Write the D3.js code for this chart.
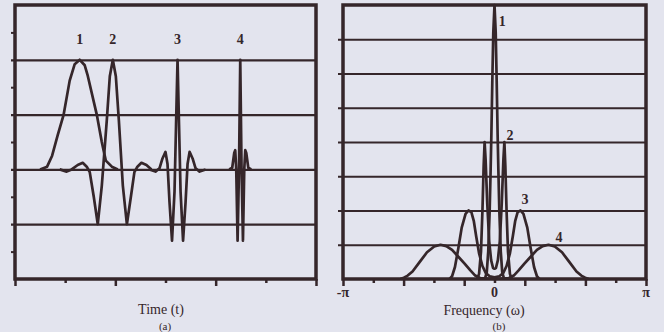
<!DOCTYPE html>
<head>
<meta charset="utf-8">
<title>wavelets: time and frequency</title>
<style>
    body { margin:0; background:#e3e4ee; }
    svg { display:block; }
    text { font-family:"Liberation Serif", "DejaVu Serif", serif; fill:#35262a; }
</style>
</head>
<body>
<svg width="664" height="332"></svg>

<script src="https://cdnjs.cloudflare.com/ajax/libs/d3/7.8.5/d3.min.js"></script>
<script>
// (a) time domain, t in tick units, value in grid units
var time1 = [[0.50,0],[0.64,0.05],[0.74,0.25],[0.85,0.62],[0.97,1.0],[1.09,1.62],[1.19,1.92],[1.29,2.0],
             [1.39,1.9],[1.45,1.71],[1.63,1.0],[1.73,0.5],[1.81,0.16],[1.93,0.05],[2.05,0]];
var time2 = [[0.89,0],[1.03,-0.04],[1.13,0],[1.25,0.08],[1.35,0.12],[1.43,0.05],[1.49,-0.05],[1.57,-0.5],
             [1.65,-1.0],[1.73,-0.3],[1.83,0.9],[1.89,1.7],[1.95,2.0],[2.01,1.7],[2.07,0.9],[2.15,-0.3],
             [2.23,-1.0],[2.31,-0.5],[2.38,-0.05],[2.44,0.05],[2.52,0.12],[2.62,0.08],[2.72,0]];
var time3 = [[2.68,0],[2.80,-0.04],[2.88,0.02],[2.94,0.2],[3.00,0.32],[3.04,0.1],[3.08,-0.6],[3.13,-1.3],
             [3.18,-0.4],[3.21,0.8],[3.24,2.0],[3.27,0.8],[3.30,-0.4],[3.35,-1.3],[3.40,-0.6],[3.44,0.1],
             [3.48,0.32],[3.54,0.2],[3.60,0.02],[3.68,-0.04],[3.80,0]];
var time4 = [[4.27,0],[4.33,0.03],[4.37,0.3],[4.39,0.35],[4.41,0],[4.437,-1.3],[4.465,0],[4.49,2.0],
             [4.516,0],[4.544,-1.3],[4.57,0],[4.59,0.35],[4.61,0.3],[4.65,0.03],[4.71,0]];
var timeLabels = [{n:"1", t:1.29}, {n:"2", t:1.95}, {n:"3", t:3.24}, {n:"4", t:4.49}];

// (b) frequency domain, omega in radians
var freq1 = [[-0.20,0],[-0.16,0.2],[-0.13,0.8],[-0.10,2.0],[-0.08,3.2],[-0.065,4.2],[-0.045,5.8],[-0.025,7.2],[0,8],
             [0.025,7.2],[0.045,5.8],[0.065,4.2],[0.08,3.2],[0.10,2.0],[0.13,0.8],[0.16,0.2],[0.20,0]];
var freq2 = [[-0.36,0],[-0.32,0.15],[-0.28,0.8],[-0.25,2.0],[-0.225,3.3],[-0.205,4.0],[-0.185,3.5],[-0.15,2.2],
             [-0.11,1.1],[-0.07,0.55],[-0.03,0.32],[0,0.3],[0.03,0.32],[0.07,0.55],[0.11,1.1],[0.15,2.2],
             [0.185,3.5],[0.205,4.0],[0.225,3.3],[0.25,2.0],[0.28,0.8],[0.32,0.15],[0.36,0]];
var freq3 = [[-0.93,0],[-0.88,0.08],[-0.82,0.35],[-0.75,0.9],[-0.68,1.5],[-0.60,1.9],[-0.54,2.0],[-0.48,1.95],
             [-0.43,1.7],[-0.38,1.25],[-0.32,0.75],[-0.25,0.38],[-0.18,0.17],[-0.10,0.08],[0,0.05],
             [0.10,0.08],[0.18,0.17],[0.25,0.38],[0.32,0.75],[0.38,1.25],[0.43,1.7],[0.48,1.95],[0.54,2.0],
             [0.60,1.9],[0.68,1.5],[0.75,0.9],[0.82,0.35],[0.88,0.08],[0.93,0]];
var freq4 = [[-1.95,0],[-1.88,0.04],[-1.80,0.1],[-1.70,0.22],[-1.55,0.5],[-1.40,0.78],[-1.25,0.95],[-1.12,1.0],
             [-1.00,0.96],[-0.88,0.85],[-0.75,0.65],[-0.62,0.45],[-0.50,0.25],[-0.40,0.1],[-0.30,0.03],[0,0],
             [0.30,0.03],[0.40,0.1],[0.50,0.25],[0.62,0.45],[0.75,0.65],[0.88,0.85],[1.00,0.96],[1.12,1.0],
             [1.25,0.95],[1.40,0.78],[1.55,0.5],[1.70,0.22],[1.80,0.1],[1.88,0.04],[1.95,0]];
var freqLabels = [{n:"1", w:0.16, v:7.4}, {n:"2", w:0.32, v:4.06}, {n:"3", w:0.63, v:2.2}, {n:"4", w:1.34, v:1.08}];
var freqTicks = [{s:"-\u03c0", w:-Math.PI}, {s:"0", w:0}, {s:"\u03c0", w:Math.PI}];

var ink = "#35262a";
var svg = d3.select("svg");

svg.append("rect").attr("width", 664).attr("height", 332).attr("fill", "#e3e4ee");

function styleAxis(g){
  g.select(".domain").remove();
  g.selectAll("text").remove();
  g.selectAll("line").attr("stroke", ink);
}

// ---- panel (a)
var xT = d3.scaleLinear([0, 6], [15, 316]);
var yT = d3.scaleLinear([-2, 3], [279, 5]);
var a = svg.append("g");

a.append("g").attr("transform", "translate(11,0)")
  .call(d3.axisLeft(yT).tickValues([-1, 0, 1, 2]).tickSize(-(316 - 11)))
  .call(styleAxis).selectAll("line").attr("stroke-width", 2.2);
a.append("g").attr("transform", "translate(15,0)")
  .call(d3.axisLeft(yT).tickValues([-1.5, -0.5, 0.5, 1.5, 2.5]).tickSize(4))
  .call(styleAxis).selectAll("line").attr("stroke-width", 2);
a.append("g").attr("transform", "translate(0,279)")
  .call(d3.axisBottom(xT).tickValues([0, 2, 4, 6]).tickSize(7))
  .call(styleAxis).selectAll("line").attr("stroke-width", 2.5);
a.append("g").attr("transform", "translate(0,279)")
  .call(d3.axisBottom(xT).tickValues([1, 3, 5]).tickSize(4))
  .call(styleAxis).selectAll("line").attr("stroke-width", 2.5);

a.append("rect").attr("x", xT(0)).attr("y", yT(3))
  .attr("width", xT(6) - xT(0)).attr("height", yT(-2) - yT(3))
  .attr("fill", "none").attr("stroke", ink).attr("stroke-width", 3.5);

var lineT = d3.line().x(function(d){ return xT(d[0]); }).y(function(d){ return yT(d[1]); });
a.selectAll("path.curve").data([time1, time2, time3, time4]).enter().append("path")
  .attr("class", "curve").attr("d", lineT)
  .attr("fill", "none").attr("stroke", ink).attr("stroke-width", 2.7).attr("stroke-linejoin", "round");

a.selectAll("text.num").data(timeLabels).enter().append("text")
  .attr("class", "num").attr("x", function(d){ return xT(d.t); }).attr("y", 44)
  .attr("text-anchor", "middle").attr("font-size", 14).attr("font-weight", "bold")
  .text(function(d){ return d.n; });

a.append("text").attr("x", 161).attr("y", 314).attr("text-anchor", "middle")
  .attr("font-size", 14).text("Time (t)");
a.append("text").attr("x", 165).attr("y", 330).attr("text-anchor", "middle")
  .attr("font-size", 11).text("(a)");

// ---- panel (b)
var xF = d3.scaleLinear([-Math.PI, Math.PI], [343, 646]);
var yF = d3.scaleLinear([0, 8], [279, 5]);
var b = svg.append("g");

b.append("g").attr("transform", "translate(338,0)")
  .call(d3.axisLeft(yF).tickValues([1, 2, 3, 4, 5, 6, 7]).tickSize(-(646 - 338)))
  .call(styleAxis).selectAll("line").attr("stroke-width", 2.2);
var fTicks = d3.range(11).map(function(k){ return -Math.PI + k * Math.PI / 5; });
b.append("g").attr("transform", "translate(0,279)")
  .call(d3.axisBottom(xF).tickValues(fTicks.filter(function(d, i){ return i % 2 == 0; })).tickSize(7))
  .call(styleAxis).selectAll("line").attr("stroke-width", 2.5);
b.append("g").attr("transform", "translate(0,279)")
  .call(d3.axisBottom(xF).tickValues(fTicks.filter(function(d, i){ return i % 2 == 1; })).tickSize(4))
  .call(styleAxis).selectAll("line").attr("stroke-width", 2.5);

b.append("rect").attr("x", xF(-Math.PI)).attr("y", yF(8))
  .attr("width", xF(Math.PI) - xF(-Math.PI)).attr("height", yF(0) - yF(8))
  .attr("fill", "none").attr("stroke", ink).attr("stroke-width", 3.5);

var lineF = d3.line().x(function(d){ return xF(d[0]); }).y(function(d){ return yF(d[1]); });
b.selectAll("path.curve").data([freq4, freq3, freq2, freq1]).enter().append("path")
  .attr("class", "curve").attr("d", lineF)
  .attr("fill", "none").attr("stroke", ink).attr("stroke-width", 2.7).attr("stroke-linejoin", "round");

b.selectAll("text.num").data(freqLabels).enter().append("text")
  .attr("class", "num").attr("x", function(d){ return xF(d.w); }).attr("y", function(d){ return yF(d.v); })
  .attr("text-anchor", "middle").attr("font-size", 14).attr("font-weight", "bold")
  .text(function(d){ return d.n; });

b.selectAll("text.tick").data(freqTicks).enter().append("text")
  .attr("class", "tick").attr("x", function(d){ return xF(d.w); }).attr("y", 297)
  .attr("text-anchor", "middle").attr("font-size", 14).attr("font-weight", "bold")
  .text(function(d){ return d.s; });

b.append("text").attr("x", 484).attr("y", 315).attr("text-anchor", "middle")
  .attr("font-size", 14).text("Frequency (\u03c9)");
b.append("text").attr("x", 499).attr("y", 330).attr("text-anchor", "middle")
  .attr("font-size", 11).text("(b)");
</script>
</body>
